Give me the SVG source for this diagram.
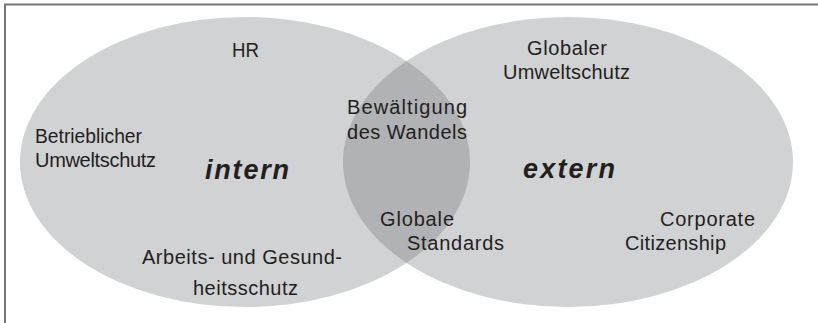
<svg xmlns="http://www.w3.org/2000/svg" width="818" height="323" viewBox="0 0 818 323">
  <style>
    .set { fill: #d1d2d4; }
    .overlap { fill: #b1b2b5; }
    .lbl { font-family: "Liberation Sans", Arial, sans-serif; font-size: 20px; fill: #231f20; }
    .key { font-family: "Liberation Sans", Arial, sans-serif; font-size: 27px; font-weight: bold; font-style: italic; fill: #231f20; }
    .frame { fill: none; stroke: #777777; stroke-width: 2; }
  </style>
  <defs>
    <clipPath id="clipLeft">
      <ellipse cx="245" cy="162" rx="225" ry="145"/>
    </clipPath>
  </defs>
  <rect x="0" y="0" width="818" height="323" fill="#ffffff"/>
  <polyline class="frame" points="5,323 5,4.5 818,4.5"/>

  <g id="set-intern">
    <ellipse class="set" cx="245" cy="162" rx="225" ry="145"/>
  </g>
  <g id="set-extern">
    <ellipse class="set" cx="568" cy="162" rx="225" ry="145"/>
  </g>
  <g id="overlap">
    <ellipse class="overlap" cx="568" cy="162" rx="225" ry="145" clip-path="url(#clipLeft)"/>
  </g>

  <g id="connectors"/>

  <g id="labels-intern">
    <text class="lbl" x="232" y="57" textLength="27" lengthAdjust="spacingAndGlyphs">HR</text>
    <text class="lbl" x="35" y="143" textLength="107" lengthAdjust="spacingAndGlyphs">Betrieblicher</text>
    <text class="lbl" x="35" y="167" textLength="121" lengthAdjust="spacing">Umweltschutz</text>
    <text class="key" x="205" y="179" textLength="84" lengthAdjust="spacing">intern</text>
    <text class="lbl" x="142" y="264" textLength="200" lengthAdjust="spacing">Arbeits- und Gesund-</text>
    <text class="lbl" x="193" y="295" textLength="105" lengthAdjust="spacing">heitsschutz</text>
  </g>
  <g id="labels-overlap">
    <text class="lbl" x="347" y="114" textLength="120" lengthAdjust="spacing">Bewältigung</text>
    <text class="lbl" x="347" y="139" textLength="120" lengthAdjust="spacing">des Wandels</text>
    <text class="lbl" x="380" y="226" textLength="74" lengthAdjust="spacing">Globale</text>
    <text class="lbl" x="407" y="250" textLength="97" lengthAdjust="spacing">Standards</text>
  </g>
  <g id="labels-extern">
    <text class="lbl" x="527" y="55" textLength="80" lengthAdjust="spacing">Globaler</text>
    <text class="lbl" x="503" y="79" textLength="127" lengthAdjust="spacing">Umweltschutz</text>
    <text class="key" x="523" y="178" textLength="92" lengthAdjust="spacing">extern</text>
    <text class="lbl" x="660" y="226" textLength="95" lengthAdjust="spacing">Corporate</text>
    <text class="lbl" x="625" y="250" textLength="101" lengthAdjust="spacing">Citizenship</text>
  </g>
</svg>
